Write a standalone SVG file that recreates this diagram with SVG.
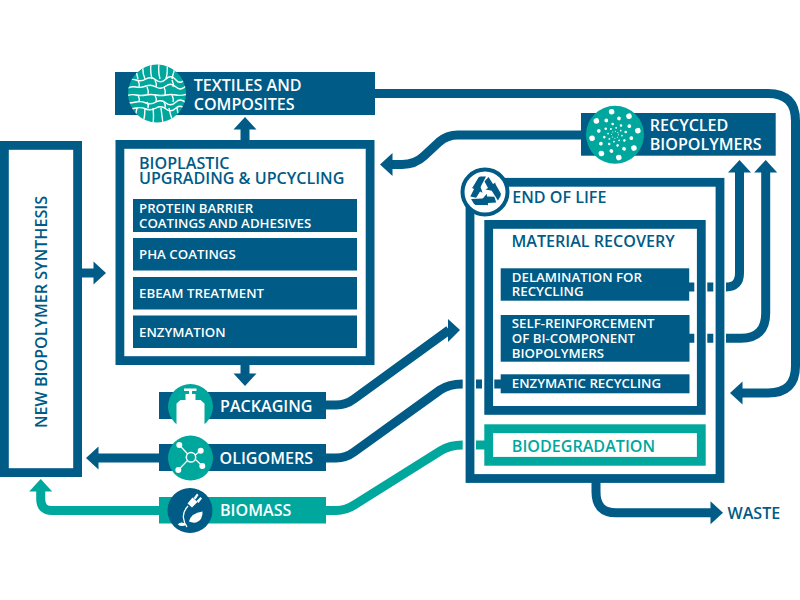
<svg xmlns="http://www.w3.org/2000/svg" width="800" height="600" viewBox="0 0 800 600">
<style>
text{font-family:"Open Sans","Noto Sans","Liberation Sans",sans-serif;font-weight:600}
.n{fill:#005b86}.t{fill:#00a79d}.w{fill:#fff}
.box{fill:#fff;stroke:#005b86;stroke-width:8.8}
.lab{font-size:16.1px}
.sub{font-size:13.25px}
.c{fill:none;stroke:#005b86;stroke-width:9}
.ct{fill:none;stroke:#00a79d;stroke-width:9}
.ic{fill:none;stroke:#fff;stroke-width:1.4}
</style>
<defs>
<marker id="ah" markerUnits="userSpaceOnUse" markerWidth="13" markerHeight="24" refX="0.5" refY="11.5" orient="auto" overflow="visible"><path d="M0 0L12.5 11.5L0 23Z" fill="#005b86"/></marker>
<marker id="aht" markerUnits="userSpaceOnUse" markerWidth="13" markerHeight="24" refX="0.5" refY="11.5" orient="auto" overflow="visible"><path d="M0 0L12.5 11.5L0 23Z" fill="#00a79d"/></marker>
<clipPath id="cl1"><circle cx="157" cy="93.5" r="29"/></clipPath>
<path id="rc" d="M-12.500-4.500L-6.500-14.500Q-5.500-15.500-4-15.500H1L-4.500-5ZM3.500-15L8-8L10.500-9.500L8.500-1L0.500-2.500L3-4L-0.500-10.500Z"/>
</defs>
<rect width="800" height="600" fill="#fff"/>
<g id="new-biopolymer-synthesis">
<rect class="box" x="4.400" y="145.400" width="73.200" height="327.200"/>
<text class="lab" fill="#005b86" transform="translate(46.700 428) rotate(-90)">NEW BIOPOLYMER SYNTHESIS</text>
</g>
<g id="textiles">
<rect class="n" x="115" y="72" width="260" height="43"/>
<circle class="t" cx="157" cy="93.500" r="29"/>
<g clip-path="url(#cl1)" class="ic">
<path d="M126 82q5-4 10-2t10-1t10 1t10-1t10 1t12-4"/>
<path d="M126 89q5-3 10-2t10-1t10 1t10-1t10 1t12-3"/>
<path d="M126 96q5-2 10-1t10 0t10 0t10 0t10 0t12-1"/>
<path d="M126 103q5 0 10-1t10 1t10-1t10 1t10-1t12 3"/>
<path d="M126 109q5 0 10-1t10 1t10-1t10 1t10-1t12 4"/>
<path d="M143 64q-1 8 2 15M151 64q-1 8 1 15M159 64q-1 8 1 15M167 64q1 8-1 15M135 68q2 6 3 11M175 68q-2 6-3 11"/>
<path d="M138 80q2 4 1 8M155 80q2 4 1 7M172 80q2 4 1 7M147 87q2 4 1 8M164 87q2 4 1 8M138 95q2 4 1 7M155 95q2 4 1 7M172 95q2 4 1 7M147 102q2 3 1 6M164 102q2 3 1 6"/>
<path d="M137 108q-1 6-3 12M145 108q0 8-2 16M153 108q1 8 0 16M161 108q1 8 2 16M169 108q1 6 4 14M177 108q0 4 3 9"/>
</g>
<text class="lab" x="193.700" y="90.700" fill="#fff">TEXTILES AND</text>
<text class="lab" x="193.700" y="110" fill="#fff">COMPOSITES</text>
</g>
<g id="bioplastic-upgrading">
<rect class="box" x="119.900" y="144.400" width="250.200" height="216.200"/>
<g fill="#005b86">
<text class="lab" x="139" y="169">BIOPLASTIC</text>
<text class="lab" x="139" y="184">UPGRADING &amp; UPCYCLING</text>
</g>
<rect class="n" x="133" y="199" width="224" height="33"/>
<rect class="n" x="133" y="238" width="224" height="32.500"/>
<rect class="n" x="133" y="277" width="224" height="32.500"/>
<rect class="n" x="133" y="315.500" width="224" height="32.500"/>
<g class="w">
<text class="sub" x="139" y="213.300">PROTEIN BARRIER</text>
<text class="sub" x="139" y="227.700">COATINGS AND ADHESIVES</text>
<text class="sub" x="139" y="259">PHA COATINGS</text>
<text class="sub" x="139" y="297.700">EBEAM TREATMENT</text>
<text class="sub" x="139" y="336.700">ENZYMATION</text>
</g>
</g>
<g id="packaging">
<rect class="n" x="159" y="392" width="167" height="27"/>
<circle class="t" cx="190.500" cy="406.500" r="22.500"/>
<path class="w" d="M176.500 431V403.500L180.500 400H185.500V394H189V391H184V388.500H196.500V391H192V394H195.500V400H200.500L204.500 403.500V431Z"/>
<text class="lab" x="220" y="411.700" fill="#fff">PACKAGING</text>
</g>
<g id="oligomers">
<rect class="n" x="159" y="444" width="167" height="27"/>
<circle class="t" cx="190.500" cy="458" r="22.500"/>
<g stroke="#fff" stroke-width="1.200" fill="none">
<circle cx="191" cy="457.300" r="4.700" stroke-width="1.500"/>
<path d="M179.300 445L187.700 454M200.700 450.700L195.200 455M202.300 466L195.500 459.500M178.300 470L187.500 460.500"/>
</g>
<g class="w"><circle cx="179.300" cy="445" r="3"/><circle cx="200.700" cy="450.700" r="3"/><circle cx="202.300" cy="466" r="3"/><circle cx="178.300" cy="470" r="3"/></g>
<text class="lab" x="219.500" y="463.700" fill="#fff">OLIGOMERS</text>
</g>
<g id="biomass">
<rect class="t" x="159" y="497" width="167" height="26.500"/>
<circle class="n" cx="190" cy="510.500" r="22.500"/>
<g class="w">
<path d="M187.500 503.500L192.500 497.500L197.500 502L192 507.500Z"/>
<path d="M193.500 498L197 493.500L198.500 495L195.500 499.500ZM196.500 501L200.500 497L202 498.500L198.500 503Z"/>
<path d="M189 521.500Q191 513 202.500 511.500Q203 520 196 522.500Q192 523 189 521.500Z"/>
<path d="M177.800 524.500Q181 520.500 186.500 524.500Q182 527.500 177.800 524.500Z"/>
</g>
<path d="M188 506Q182.500 512 183.500 518Q184 523 187 527" fill="none" stroke="#fff" stroke-width="1.300"/>
<text class="lab" x="220" y="516" fill="#fff">BIOMASS</text>
</g>
<g id="recycled-biopolymers">
<rect class="n" x="581" y="113" width="194.700" height="42.700"/>
<circle class="t" cx="615" cy="134.700" r="29"/>
<g fill="none" stroke="#fff" stroke-linecap="round">
<circle cx="615" cy="134.700" r="23.200" stroke-width="5.600" stroke-dasharray="0 18.221" transform="rotate(-10 615 134.700)"/>
<circle cx="615" cy="134.700" r="16.700" stroke-width="3.800" stroke-dasharray="0 13.116" transform="rotate(12 615 134.700)"/>
<circle cx="615" cy="134.700" r="11" stroke-width="2.600" stroke-dasharray="0 8.639" transform="rotate(-14 615 134.700)"/>
<circle cx="615" cy="134.700" r="7" stroke-width="1.800" stroke-dasharray="0 5.498" transform="rotate(8 615 134.700)"/>
<circle cx="615" cy="134.700" r="3.500" stroke-width="1.100" stroke-dasharray="0 2.749"/>
</g>
<text class="lab" x="649.700" y="130.700" fill="#fff">RECYCLED</text>
<text class="lab" x="649.700" y="150.300" fill="#fff">BIOPOLYMERS</text>
</g>
<g id="end-of-life">
<rect class="box" x="470" y="182.300" width="250" height="296.200"/>
<circle cx="485" cy="192" r="22.500" fill="#fff" stroke="#005b86" stroke-width="4"/>
<g class="n">
<use href="#rc" transform="translate(485 192)"/>
<use href="#rc" transform="translate(485 192) rotate(120)"/>
<use href="#rc" transform="translate(485 192) rotate(240)"/>
</g>
<text class="lab" x="512.200" y="203.300" fill="#005b86">END OF LIFE</text>
</g>
<g id="material-recovery">
<rect class="box" x="488.700" y="224.400" width="212.600" height="186"/>
<text class="lab" x="511.500" y="247.300" fill="#005b86">MATERIAL RECOVERY</text>
<rect class="n" x="500.700" y="268.300" width="188.500" height="32.400"/>
<rect class="n" x="500.700" y="315" width="188.800" height="46.700"/>
<rect class="n" x="500.700" y="374.300" width="188.800" height="19"/>
<g class="w">
<text class="sub" x="511.800" y="281.700">DELAMINATION FOR</text>
<text class="sub" x="511.800" y="296">RECYCLING</text>
<text class="sub" x="511.800" y="328.300">SELF-REINFORCEMENT</text>
<text class="sub" x="511.800" y="342.700">OF BI-COMPONENT</text>
<text class="sub" x="511.800" y="357.700">BIOPOLYMERS</text>
<text class="sub" x="511.800" y="388">ENZYMATIC RECYCLING</text>
</g>
</g>
<g id="biodegradation">
<rect x="488.700" y="428.700" width="212.600" height="32.600" fill="#fff" stroke="#00a79d" stroke-width="8.800"/>
<text class="lab" x="511.800" y="451.700" fill="#00a79d">BIODEGRADATION</text>
</g>
<g id="waste"><text class="lab" x="727.500" y="519" fill="#005b86">WASTE</text></g>
<g id="connectors">
<path class="c" d="M375 93.400H768Q795.500 93.400 795.500 121V366Q795.500 393 768 393H742" marker-end="url(#ah)"/>
<path class="c" d="M245 140V129" marker-end="url(#ah)"/>
<path class="c" d="M245 365V374" marker-end="url(#ah)"/>
<path class="c" d="M82 273H94" marker-end="url(#ah)"/>
<path class="c" d="M159 458H98" marker-end="url(#ah)"/>
<path class="ct" d="M159 510.500H52Q40.700 510.500 40.700 499V491" marker-end="url(#aht)"/>
<path class="c" d="M581 135H458Q447 135 439 142L424 156Q415 164.500 402 164.500H392" marker-end="url(#ah)"/>
<path class="c" d="M326 405H336Q346 405 354 399L449 330"/>
<polygon class="n" points="448,319 460,330 448,342"/>
<path class="c" d="M326 458H336Q346 458 354 452L440 390Q449 384 462.700 384"/>
<path class="c" d="M476 384H482M494.300 384H501"/>
<path class="ct" d="M326 510.500H336Q346 510.500 355 504.500L441 450.500Q450 445 462.700 445"/>
<path class="ct" d="M476 445H485"/>
<path class="c" d="M689 287H694.300M707.300 287H713.300M726 287Q739.500 287 739.500 273V172" marker-end="url(#ah)"/>
<path class="c" d="M689 338.300H694.300M707.300 338.300H713.300M726 338.300H741Q765.700 338.300 765.700 313V172" marker-end="url(#ah)"/>
<path class="c" d="M596 482V492Q596 512.800 616 512.800H711" marker-end="url(#ah)"/>
</g>
</svg>
